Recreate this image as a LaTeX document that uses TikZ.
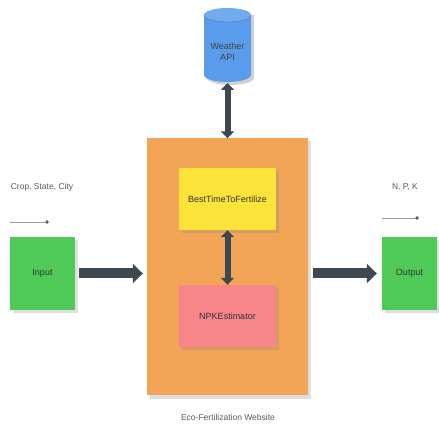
\documentclass[tikz,border=0pt]{standalone}
\usepackage{fontspec}
\setmainfont{Liberation Sans}
\usetikzlibrary{arrows.meta,shadows}
\definecolor{orangebox}{HTML}{F2A557}
\definecolor{yellowbox}{HTML}{FCE33A}
\definecolor{pinkbox}{HTML}{F8858A}
\definecolor{greenbox}{HTML}{4FC957}
\definecolor{bluedb}{HTML}{5A9CEC}
\definecolor{arrowdark}{HTML}{3E4852}
\tikzset{
  box/.style={rectangle, inner sep=0pt, font=\fontsize{9}{10}\selectfont, text=black!80,
              drop shadow={opacity=0.25, shadow xshift=3pt, shadow yshift=-3pt}},
  bigarrow/.style={draw=arrowdark, line width=10pt, -{Triangle[length=10pt, width=19pt]}},
  linkarrow/.style={draw=arrowdark, line width=6pt, {Triangle[length=7pt, width=13pt]}-{Triangle[length=7pt, width=13pt]}},
  smallarrow/.style={draw=black!40, line width=0.6pt, -{Circle[length=4pt, fill=arrowdark]}},
  caption/.style={font=\fontsize{8.5}{10}\selectfont, text=black!65}
}
\begin{document}
\begin{tikzpicture}[x=1pt, y=-1pt]
  \useasboundingbox[fill=white] (0,0) rectangle (439,427);

  % main website container
  \node[box, fill=orangebox, minimum width=161pt, minimum height=257pt] (site) at (227.5,267) {};
  \node[caption] (sitecap) at (228,417) {Eco-Fertilization Website};

  % inner modules
  \node[box, fill=yellowbox, minimum width=97pt, minimum height=62pt] (best) at (227.5,199) {BestTimeToFertilize};
  \node[box, fill=pinkbox, minimum width=97pt, minimum height=62pt] (npk) at (227.5,316) {NPKEstimator};

  % input and output
  \node[box, fill=greenbox, minimum width=65pt, minimum height=73pt] (in) at (42.5,273.5) {Input};
  \node[box, fill=greenbox, minimum width=55pt, minimum height=73pt] (out) at (409.5,273.5) {Output};

  % weather API cylinder
  \fill[black, opacity=0.18] (207,15) -- (207,78) arc[start angle=180, end angle=360, x radius=23.5pt, y radius=7pt] -- (254,15) -- cycle;
  \fill[bluedb] (204,15) -- (204,75) arc[start angle=180, end angle=360, x radius=23.5pt, y radius=7pt] -- (251,15) -- cycle;
  \fill[bluedb!85!white] (227.5,15) ellipse[x radius=23.5pt, y radius=7pt];
  \draw[bluedb!75!black, line width=0.3pt] (204,15) arc[start angle=180, end angle=360, x radius=23.5pt, y radius=7pt];
  \node[font=\fontsize{9}{11}\selectfont, text=black!75, align=center] (api) at (227.5,52) {Weather\\API};
  \coordinate (apibottom) at (227.5,83);

  % connectors
  \draw[linkarrow] (apibottom) -- (apibottom |- site.north);
  \draw[linkarrow] (best.south) -- (npk.north);
  \draw[bigarrow] ([xshift=4pt]in.east) -- ([xshift=-4pt]in.east -| site.west);
  \draw[bigarrow] ([xshift=5pt]out.west -| site.east) -- ([xshift=-5pt]out.west);

  % data labels
  \node[caption] (inlabel) at (42,187) {Crop, State, City};
  \coordinate (inA) at (10,222);
  \coordinate (inB) at (49,222);
  \draw[smallarrow] (inA) -- (inB);
  \node[caption] (outlabel) at (405,187) {N, P, K};
  \coordinate (outA) at (382,218);
  \coordinate (outB) at (419,218);
  \draw[smallarrow] (outA) -- (outB);
\end{tikzpicture}
\end{document}
